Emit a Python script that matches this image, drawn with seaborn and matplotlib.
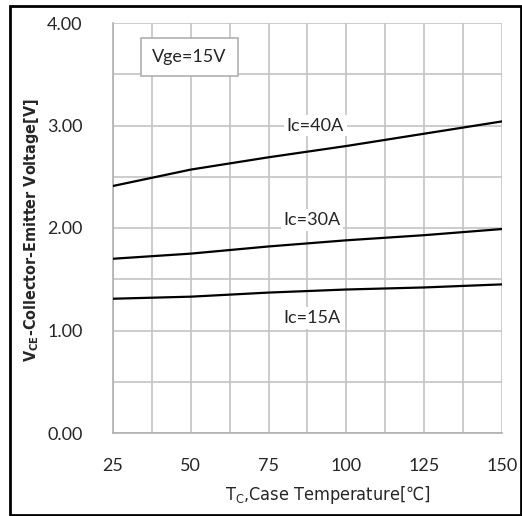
import numpy as np
import pandas as pd
import seaborn as sns
import matplotlib.pyplot as plt
from matplotlib.patches import Rectangle

temps = [25, 50, 75, 100, 125, 150]
vce_40a = [2.41, 2.57, 2.69, 2.80, 2.92, 3.04]
vce_30a = [1.70, 1.75, 1.82, 1.88, 1.93, 1.99]
vce_15a = [1.31, 1.33, 1.37, 1.40, 1.42, 1.45]
series = ['Ic=40A', 'Ic=30A', 'Ic=15A']

df = pd.DataFrame({
    'Tc': temps * 3,
    'Vce': vce_40a + vce_30a + vce_15a,
    'curve': [s for s in series for _ in temps],
})

sns.set_style('white')
plt.rcParams['font.family'] = ['Lato', 'DejaVu Sans']

fig = plt.figure(figsize=(5.22, 5.16), dpi=100)
ax = fig.add_axes([113 / 522, 83 / 516, 389 / 522, 410 / 516])

sns.lineplot(data=df, x='Tc', y='Vce', hue='curve', palette=['black'] * 3,
             legend=False, linewidth=1.6, ax=ax, zorder=3)

ax.set_xlim(25, 150)
ax.set_ylim(0, 4)
ax.set_xticks(np.arange(25, 151, 25))
ax.set_xticks(np.arange(25, 151, 12.5), minor=True)
ax.set_yticks(np.arange(0, 4.01, 1))
ax.set_yticks(np.arange(0, 4.01, 0.5), minor=True)
ax.set_yticklabels([f'{v:.2f}' for v in np.arange(0, 4.01, 1)])
ax.grid(True, which='both', color='#c4c4c4', linewidth=1.2)
for s in ['top', 'right']:
    ax.spines[s].set_visible(False)
for s in ['left', 'bottom']:
    ax.spines[s].set_color('#b0b0b0')
    ax.spines[s].set_linewidth(1.2)
ax.tick_params(axis='both', which='major', length=8, width=1.2, color='#b0b0b0',
               labelsize=13)
ax.tick_params(axis='y', which='major', pad=14)
ax.tick_params(axis='x', which='major', pad=10)
ax.tick_params(axis='both', which='minor', length=0)
ax.set_xlabel('')
ax.set_ylabel('')

box = dict(facecolor='white', edgecolor='none', pad=2)
ax.text(90, 3.0, 'Ic=40A', fontsize=13, ha='center', va='center', bbox=box, zorder=4)
ax.text(89, 2.08, 'Ic=30A', fontsize=13, ha='center', va='center', bbox=box, zorder=4)
ax.text(89, 1.12, 'Ic=15A', fontsize=13, ha='center', va='center', bbox=box, zorder=4)
ax.text(49.5, 3.67, 'Vge=15V', fontsize=13, ha='center', va='center', zorder=4,
        bbox=dict(facecolor='white', edgecolor='#b0b0b0', pad=8, linewidth=1.2))

fig.text(32 / 522, 1 - 230 / 516, r'V$_{\mathregular{CE}}$-Collector-Emitter Voltage[V]',
         rotation=90, ha='center', va='center', fontsize=11.5, fontweight='bold',
         family='DejaVu Sans', fontstretch='condensed')
fig.text(328 / 522, 1 - 495 / 516, r'T$_{\mathregular{C}}$,Case Temperature[℃]',
         ha='center', va='center', fontsize=13, family='DejaVu Sans',
         fontstretch='condensed')

fig.patches.append(Rectangle((10 / 522, 1 - 515 / 516), 511 / 522, 509 / 516,
                             transform=fig.transFigure, fill=False,
                             edgecolor='black', linewidth=2))

fig.savefig('out.png', dpi=100)
